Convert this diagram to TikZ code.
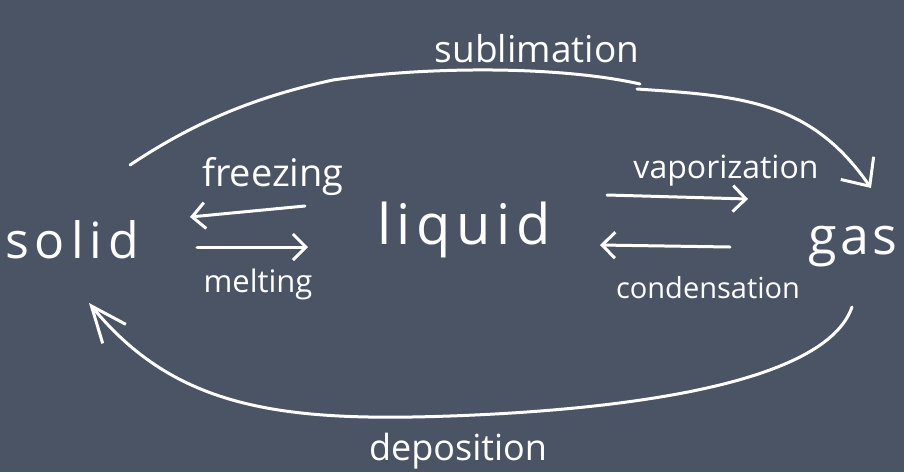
\documentclass[tikz,border=0pt]{standalone}
\usepackage{fontspec}
\setmainfont{Open Sans}
\usetikzlibrary{arrows.meta}
\definecolor{slate}{HTML}{4B5465}
\begin{document}
\begin{tikzpicture}[x=1pt,y=-1pt,
  chalk/.style={draw=white, line width=3pt, line cap=round, line join=round},
  hand/.style={text=white, inner sep=0pt, anchor=base},
  barb/.style={-{Straight Barb[length=13pt,width=26pt]}},
  bigbarb/.style={-{Straight Barb[length=22pt,width=40pt]}},
  longbarb/.style={-{Straight Barb[length=36pt,width=30pt]}}]
\fill[slate] (0,0) rectangle (904,472);
\useasboundingbox (0,0) rectangle (904,472);

% states
\node[hand, font={\fontsize{50}{56}\selectfont\addfontfeature{LetterSpace=12}}] (solid) at (72,258) {solid};
\node[hand, font={\fontsize{56}{60}\selectfont\addfontfeature{LetterSpace=10}}] (liquid) at (464,244) {liquid};
\node[hand, font={\fontsize{52}{56}\selectfont\addfontfeature{LetterSpace=6}}] (gas) at (853,254) {gas};

% labels
\node[hand, font={\fontsize{37}{40}\selectfont}] (sublimation) at (537,62) {sublimation};
\node[hand, font={\fontsize{38}{40}\selectfont}] (freezing) at (273,186) {freezing};
\node[hand, font={\fontsize{31}{34}\selectfont}] (melting) at (258,292) {melting};
\node[hand, font={\fontsize{32}{34}\selectfont}] (vaporization) at (726,178) {vaporization};
\node[hand, font={\fontsize{29}{32}\selectfont}] (condensation) at (708,298) {condensation};
\node[hand, font={\fontsize{36}{40}\selectfont}] (deposition) at (458,460) {deposition};

% arrow end points
\coordinate (frS) at (305,206);
\coordinate (frE) at (190,217);
\coordinate (meS) at (197,247);
\coordinate (meE) at (308,247);
\coordinate (vaS) at (607,195);
\coordinate (vaE) at (748,199);
\coordinate (coS) at (730,247);
\coordinate (coE) at (600,245);
\coordinate (suA) at (130,165);
\coordinate (suB) at (333,80);
\coordinate (suC) at (640,84);
\coordinate (suD) at (637,89);
\coordinate (suE) at (871,188);
\coordinate (deA) at (852,307);
\coordinate (deB) at (450,416);
\coordinate (deE) at (89,303);

% short arrows
\draw[chalk, barb] (frS) -- (frE);
\draw[chalk, barb] (meS) -- (meE);
\draw[chalk, barb] (vaS) -- (vaE);
\draw[chalk, barb] (coS) -- (coE);

% sublimation
\draw[chalk] (suA) .. controls (190,125) and (250,98) .. (suB)
  .. controls (430,66) and (560,66) .. (suC);
\draw[chalk, bigbarb] (suD) .. controls (740,96) and (810,100) .. (suE);

% deposition
\draw[chalk, longbarb] (deA) .. controls (825,385) and (620,410) .. (deB)
  .. controls (280,422) and (175,408) .. (deE);
\end{tikzpicture}
\end{document}
